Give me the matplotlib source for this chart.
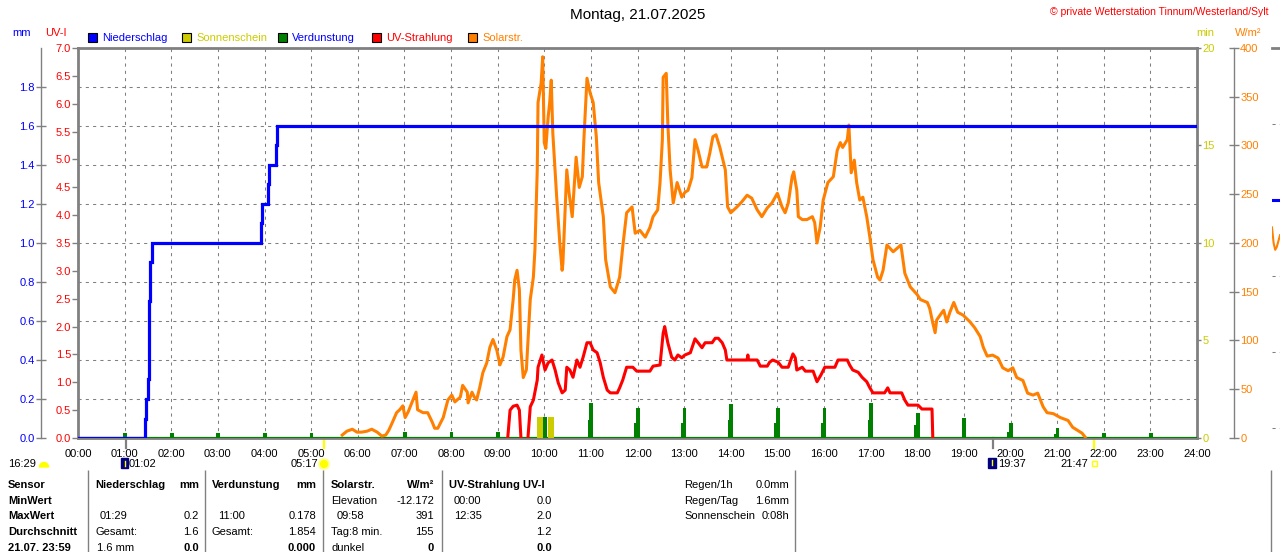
import numpy as np
import matplotlib
matplotlib.use("Agg")
import matplotlib.pyplot as plt
from matplotlib.patches import Rectangle, Circle, Wedge

plt.rcParams['font.family'] = ['Liberation Sans', 'DejaVu Sans']
plt.rcParams['font.size'] = 8

# Farben
BLAU = '#0000ff'
GELB = '#cccc00'
GRUEN = '#008000'
ROT = '#ff0000'
ORANGE = '#ff8000'
GRAU = '#808080'

# ---------------- Daten ----------------
stunden = np.arange(0, 25)
stunden_text = [f'{h:02d}:00' for h in stunden]

# Niederschlag, Tagessumme (mm)
regen_zeit = ['00:00', '01:26', '01:28', '01:30', '01:32', '01:33', '01:35',
              '03:56', '03:57', '04:04', '04:06', '04:15', '04:16', '24:00']
regen_mm = [0.0, 0.1, 0.2, 0.3, 0.7, 0.9, 1.0, 1.1, 1.2, 1.3, 1.4, 1.5, 1.6, 1.6]

# Verdunstung je Stunde (mm)
verd_stunde = np.arange(0, 24)
verd_mm = [0, .027, .027, .027, .027, .027, 0, .03, .03, .03, .107, .178,
           .155, .152, .175, .155, .155, .178, .128, .103, .077, .05, .025, .025]
verd_rest = [0, 0, 0, 0, 0, 0, 0, 0, 0, 0, .07, .09,
             .077, .075, .09, .075, .075, .09, .067, 0, .03, .02, 0, 0]

# Sonnenschein (min)
sonne_zeit = ['09:54', '10:09']
sonne_min = [1.06, 1.06]

# UV-Strahlung (UV-I)
uv_zeit = ['09:13', '09:16', '09:20', '09:25', '09:28', '09:30', '09:35', '09:39', '09:42', '09:46',
           '09:51', '09:52', '09:57', '10:01', '10:05', '10:10', '10:14', '10:18', '10:23', '10:27',
           '10:29', '10:33', '10:37', '10:42', '10:46', '10:50', '10:55', '10:59', '11:03', '11:08',
           '11:12', '11:16', '11:21', '11:25', '11:34', '11:37', '11:41', '11:46', '11:54', '11:59',
           '12:16', '12:20', '12:29', '12:33', '12:35', '12:39', '12:44', '12:48', '12:52', '12:57',
           '13:01', '13:08', '13:14', '13:18', '13:23', '13:27', '13:36', '13:40', '13:44', '13:49',
           '13:53', '13:55', '14:21', '14:22', '14:23', '14:34', '14:38', '14:47', '14:50', '14:54',
           '15:01', '15:06', '15:14', '15:20', '15:23', '15:25', '15:32', '15:36', '15:46', '15:51',
           '15:56', '16:01', '16:14', '16:18', '16:30', '16:33', '16:37', '16:44', '16:49', '16:55',
           '16:59', '17:03', '17:18', '17:22', '17:25', '17:40', '17:44', '17:48', '18:01', '18:06',
           '18:19', '18:20']
uv_wert = [0.0, .5, .57, .59, .5, 0.0, np.nan, 0.0, .56, .68,
           1.04, 1.27, 1.49, 1.22, 1.35, 1.4, 1.22, .99, .81, .86,
           1.27, 1.22, 1.09, 1.4, 1.27, 1.45, 1.71, 1.71, 1.58, 1.53,
           1.35, 1.09, .86, .81, .81, .9, 1.04, 1.27, 1.27, 1.2,
           1.2, 1.29, 1.31, 1.88, 2.0, 1.71, 1.45, 1.4, 1.49, 1.44,
           1.49, 1.53, 1.78, 1.71, 1.62, 1.71, 1.71, 1.79, 1.79, 1.71,
           1.58, 1.4, 1.4, 1.49, 1.4, 1.4, 1.29, 1.29, 1.36, 1.4,
           1.36, 1.27, 1.27, 1.51, 1.44, 1.22, 1.27, 1.2, 1.2, 1.01,
           1.13, 1.27, 1.27, 1.4, 1.4, 1.31, 1.22, 1.18, 1.09, 1.01,
           .9, .81, .81, .9, .81, .81, .68, .59, .59, .52,
           .52, 0.0]

# Solarstrahlung (W/m2)
solar_zeit = ['05:40', '05:46', '05:53', '05:59', '06:05', '06:12', '06:18', '06:25', '06:31', '06:36',
              '06:40', '06:44', '06:50', '06:54', '06:58', '07:01', '07:05', '07:10', '07:15', '07:17',
              '07:24', '07:30', '07:36', '07:39', '07:43', '07:50', '07:56', '08:01', '08:05', '08:12',
              '08:15', '08:21', '08:22', '08:27', '08:30', '08:33', '08:37', '08:41', '08:46', '08:50',
              '08:54', '08:59', '09:03', '09:07', '09:12', '09:16', '09:20', '09:22', '09:25', '09:28',
              '09:30', '09:33', '09:37', '09:42', '09:46', '09:48', '09:51', '09:52', '09:56', '09:58',
              '10:00', '10:02', '10:05', '10:07', '10:09', '10:11', '10:16', '10:20', '10:23', '10:24',
              '10:29', '10:32', '10:36', '10:41', '10:45', '10:49', '10:51', '10:55', '10:59', '11:03',
              '11:07', '11:10', '11:16', '11:19', '11:25', '11:31', '11:37', '11:41', '11:46', '11:53',
              '11:57', '12:03', '12:10', '12:16', '12:20', '12:26', '12:29', '12:32', '12:33', '12:37',
              '12:39', '12:42', '12:46', '12:51', '12:57', '13:01', '13:05', '13:10', '13:14', '13:18',
              '13:23', '13:29', '13:33', '13:37', '13:41', '13:46', '13:53', '13:56', '14:00', '14:08',
              '14:14', '14:21', '14:27', '14:34', '14:40', '14:47', '14:53', '15:00', '15:06', '15:10',
              '15:14', '15:19', '15:21', '15:25', '15:27', '15:32', '15:38', '15:45', '15:48', '15:51',
              '15:55', '15:59', '16:05', '16:12', '16:17', '16:21', '16:24', '16:30', '16:32', '16:35',
              '16:39', '16:42', '16:46', '16:50', '16:55', '16:59', '17:03', '17:09', '17:12', '17:16',
              '17:21', '17:29', '17:39', '17:44', '17:51', '18:00', '18:04', '18:13', '18:16', '18:20',
              '18:23', '18:25', '18:32', '18:34', '18:38', '18:42', '18:47', '18:52', '18:59', '19:08',
              '19:14', '19:21', '19:25', '19:30', '19:37', '19:44', '19:50', '19:57', '20:03', '20:08',
              '20:16', '20:22', '20:29', '20:35', '20:42', '20:47', '20:55', '21:04', '21:14', '21:20',
              '21:26', '21:32', '21:36']
solar_wert = [3, 7, 9, 6, 6, 7, 9, 6, 2, 3,
              8, 15, 26, 29, 33, 21, 27, 37, 47, 29,
              26, 26, 16, 10, 10, 21, 39, 44, 37, 42,
              54, 47, 36, 47, 42, 39, 52, 67, 77, 93,
              101, 90, 75, 83, 104, 111, 142, 162, 172, 152,
              90, 62, 70, 142, 165, 193, 275, 344, 364, 391,
              303, 297, 329, 344, 367, 313, 247, 200, 172, 179,
              275, 251, 227, 288, 257, 268, 306, 369, 354, 344,
              309, 262, 227, 183, 155, 149, 165, 196, 231, 237,
              210, 213, 206, 216, 227, 234, 262, 306, 370, 374,
              323, 275, 241, 262, 247, 252, 254, 267, 306, 295,
              278, 278, 292, 309, 311, 298, 275, 237, 231, 237,
              242, 249, 246, 234, 227, 236, 241, 251, 237, 231,
              241, 268, 273, 254, 227, 224, 224, 227, 221, 200,
              216, 244, 262, 268, 295, 303, 298, 306, 321, 272,
              285, 262, 244, 247, 227, 206, 183, 165, 162, 172,
              198, 191, 198, 169, 155, 147, 142, 139, 133, 118,
              108, 121, 129, 131, 119, 129, 139, 129, 126, 119,
              113, 104, 93, 84, 85, 82, 72, 69, 72, 62,
              59, 46, 44, 46, 32, 26, 25, 21, 18, 11,
              8, 5, 1]

# Sonne / Mond
sonne_auf, sonne_unter = '05:17', '21:47'
mond_unter, mond_auf = '01:02', '19:37'

# angeschnittener Rand des naechsten Diagramms
naechst_regen = 1.22
naechst_x = [0, 0.2, 0.4, 0.6, 0.8, 1.0]
naechst_solar = [216, 200, 193, 196, 202, 208]

# Tabelle
tab_zeilen = ['Sensor', 'MinWert', 'MaxWert', 'Durchschnitt', '21.07. 23:59']
regen_info = [('Regen/1h', '0.0mm'), ('Regen/Tag', '1.6mm'), ('Sonnenschein', '0:08h')]


def hm(s):
    h, m = s.split(':')
    return int(h) + int(m) / 60


# ---------------- Figur ----------------
fig = plt.figure(figsize=(12.8, 5.52), dpi=100)
L, R, T, B = 78, 1197, 48, 438
ax = fig.add_axes([L / 1280, 1 - B / 552, (R - L) / 1280, (B - T) / 552])
ax.set_xlim(0, 24)
ax.set_ylim(0, 2)
ax.set_axisbelow(True)

# Verdunstung (mm) + Gitter
ax.bar(verd_stunde + 0.01, verd_mm, width=0.08, color=GRUEN, lw=0, zorder=2)
ax.bar(verd_stunde - 0.045, verd_rest, width=0.04, color=GRUEN, lw=0, zorder=2)
ax.axhline(0, color=GRUEN, lw=1.6, zorder=4)
ax.set_xticks(stunden)
ax.set_xticklabels(stunden_text)
ax.set_yticks(np.arange(0.2, 1.81, 0.2))
ax.grid(True, color=GRAU, ls=(0, (3, 4)), lw=0.75)
for s in ax.spines.values():
    s.set_color(GRAU)
    s.set_linewidth(2)

# Sonnenschein (min)
ax_sun = ax.twinx()
ax_sun.set_ylim(0, 20)
ax_sun.bar([hm(t) for t in sonne_zeit], sonne_min, width=0.125, color=GELB, lw=0)
ax_sun.set_yticks([0, 5, 10, 15, 20])
ax_sun.tick_params(axis='y', colors=GRAU, labelcolor=GELB, length=3, width=1, pad=1)
for s in ax_sun.spines.values():
    s.set_visible(False)

# Solarstrahlung (W/m2)
ax_sol = ax.twinx()
ax_sol.set_ylim(0, 400)
ax_sol.plot([hm(t) for t in solar_zeit], solar_wert, color=ORANGE, lw=2.2)
ax_sol.set_yticks(np.arange(0, 401, 50))
ax_sol.tick_params(axis='y', colors=GRAU, labelcolor=ORANGE, length=7, width=1,
                   direction='inout', pad=1)
for k, s in ax_sol.spines.items():
    s.set_visible(k == 'right')
ax_sol.spines['right'].set_position(('axes', 1 + 37 / (R - L)))
ax_sol.spines['right'].set_color(GRAU)
ax_sol.spines['right'].set_linewidth(1)

# UV-Strahlung (UV-I)
ax_uv = ax.twinx()
ax_uv.set_ylim(0, 7)
ax_uv.plot([hm(t) for t in uv_zeit], uv_wert, color=ROT, lw=2.2)
ax_uv.yaxis.tick_left()
ax_uv.set_yticks(np.arange(0, 7.01, 0.5))
ax_uv.set_yticklabels([f'{v:.1f}' for v in np.arange(0, 7.01, 0.5)])
ax_uv.tick_params(axis='y', colors=GRAU, labelcolor=ROT, length=4, width=1, pad=1,
                  left=True, labelleft=True, right=False, labelright=False)
for s in ax_uv.spines.values():
    s.set_visible(False)

# Niederschlag (mm)
ax_mm = ax.twinx()
ax_mm.set_ylim(0, 2)
ax_mm.plot([hm(t) for t in regen_zeit], regen_mm, color=BLAU, lw=2.3,
           drawstyle='steps-post', solid_joinstyle='miter')
ax_mm.yaxis.tick_left()
ax_mm.set_yticks(np.arange(0, 1.81, 0.2))
ax_mm.set_yticklabels([f'{v:.1f}' for v in np.arange(0, 1.81, 0.2)])
ax_mm.tick_params(axis='y', colors=GRAU, labelcolor=BLAU, length=7, width=1,
                  direction='inout', pad=1, left=True, labelleft=True,
                  right=False, labelright=False)
for k, s in ax_mm.spines.items():
    s.set_visible(k == 'left')
ax_mm.spines['left'].set_position(('axes', -37 / (R - L)))
ax_mm.spines['left'].set_color(GRAU)
ax_mm.spines['left'].set_linewidth(1)

# Grundachse zuletzt einstellen
ax.tick_params(axis='y', length=0, left=False, labelleft=False, right=False, labelright=False)
ax.tick_params(axis='x', length=0, pad=8, labelsize=8)

# Sonnen- und Mondzeiten als kurze Striche unter der Achse
ax.axvline(hm(sonne_auf), ymin=-0.026, ymax=0, color='#ffff00', lw=1.6, clip_on=False)
ax.axvline(hm(sonne_unter), ymin=-0.026, ymax=0, color='#ffff00', lw=1.6, clip_on=False)
ax.axvline(hm(mond_unter), ymin=-0.026, ymax=0, color=GRAU, lw=1.6, clip_on=False)
ax.axvline(hm(mond_auf), ymin=-0.026, ymax=0, color=GRAU, lw=1.6, clip_on=False)

# Rand des folgenden Diagramms
ax_n = fig.add_axes([1272 / 1280, 1 - B / 552, 8 / 1280, (B - T) / 552])
ax_n.set_xlim(0, 1)
ax_n.set_ylim(0, 2)
ax_n.axhline(naechst_regen, color=BLAU, lw=2.2)
for yy in [0.05, 0.44, 0.83, 1.61]:
    ax_n.axhline(yy, color=GRAU, ls=(0, (3, 4)), lw=0.75)
ax_n.set_xticks([])
ax_n.set_yticks([])
for k, s in ax_n.spines.items():
    s.set_visible(k == 'top')
ax_n.spines['top'].set_color(GRAU)
ax_n.spines['top'].set_linewidth(2)
ax_n2 = ax_n.twinx()
ax_n2.set_ylim(0, 400)
ax_n2.plot(naechst_x, naechst_solar, color=ORANGE, lw=1.5)
ax_n2.axis('off')

# ---------------- Texte / Beschriftung in Pixelkoordinaten ----------------
d = fig.add_axes([0, 0, 1, 1], zorder=10)
d.set_xlim(0, 1280)
d.set_ylim(552, 0)
d.axis('off')

d.text(638, 15, 'Montag, 21.07.2025', fontsize=11, ha='center', va='center')
d.text(1268, 12, '© private Wetterstation Tinnum/Westerland/Sylt', color=ROT,
       fontsize=7.5, ha='right', va='center')
d.text(22, 33, 'mm', color=BLAU, ha='center', va='center')
d.text(56, 33, 'UV-I', color=ROT, ha='center', va='center')
d.text(1205, 33, 'min', color=GELB, ha='center', va='center')
d.text(1248, 33, 'W/m²', color=ORANGE, ha='center', va='center')

legende = [('Niederschlag', BLAU, BLAU, 88), ('Sonnenschein', GELB, GELB, 182),
           ('Verdunstung', GRUEN, BLAU, 278), ('UV-Strahlung', ROT, ROT, 372),
           ('Solarstr.', ORANGE, ORANGE, 468)]
for name, fc, tc, x0 in legende:
    d.add_patch(Rectangle((x0, 33), 9, 9, facecolor=fc, edgecolor='black', lw=0.8))
    d.text(x0 + 14, 38, name, color=tc, va='center')

# Sonne / Mond unter der Zeitachse
d.text(8, 464, '16:29', va='center')
d.add_patch(Wedge((44, 467), 4.5, 180, 360, color='#ffff00'))
d.add_patch(Rectangle((121, 458), 7, 10, color='#000080'))
d.plot([124.5, 124.5], [466, 461], color='#ffff00', lw=1)
d.text(129, 464, mond_unter, va='center')
d.text(318, 464, sonne_auf, va='center', ha='right')
d.add_patch(Circle((324, 464), 5.5, color='#ffffa0'))
d.add_patch(Circle((324, 464), 3.5, color='#ffff00'))
d.add_patch(Rectangle((988, 458), 8, 10, color='#000080'))
d.plot([991.5, 991.5], [460, 465], color='#ffff00', lw=1)
d.text(998, 464, mond_auf, va='center')
d.text(1088, 464, sonne_unter, va='center', ha='right')
d.add_patch(Rectangle((1092, 461), 5, 5, facecolor='none', edgecolor='#ffff00', lw=1))

# Tabelle
d.vlines([88, 205, 323, 442, 795], 470, 552, color=GRAU, lw=1)
d.vlines([1271], 470, 552, color=GRAU, lw=1)
zy = [485, 501, 516, 532, 548]
for txt, yy in zip(tab_zeilen, zy):
    d.text(8, yy, txt, fontweight='bold', va='center')

kopf = [(95, 'Niederschlag', 'left'), (199, 'mm', 'right'), (212, 'Verdunstung', 'left'),
        (316, 'mm', 'right'), (331, 'Solarstr.', 'left'), (434, 'W/m²', 'right'),
        (449, 'UV-Strahlung UV-I', 'left')]
for x0, txt, ha in kopf:
    d.text(x0, zy[0], txt, fontweight='bold', va='center', ha=ha)

zellen = [
    (1, 331, 'Elevation', 'left', 'normal'), (1, 434, '-12.172', 'right', 'normal'),
    (1, 454, '00:00', 'left', 'normal'), (1, 552, '0.0', 'right', 'normal'),
    (2, 100, '01:29', 'left', 'normal'), (2, 199, '0.2', 'right', 'normal'),
    (2, 218, '11:00', 'left', 'normal'), (2, 316, '0.178', 'right', 'normal'),
    (2, 337, '09:58', 'left', 'normal'), (2, 434, '391', 'right', 'normal'),
    (2, 454, '12:35', 'left', 'normal'), (2, 552, '2.0', 'right', 'normal'),
    (3, 95, 'Gesamt:', 'left', 'normal'), (3, 199, '1.6', 'right', 'normal'),
    (3, 212, 'Gesamt:', 'left', 'normal'), (3, 316, '1.854', 'right', 'normal'),
    (3, 331, 'Tag:8 min.', 'left', 'normal'), (3, 434, '155', 'right', 'normal'),
    (3, 552, '1.2', 'right', 'normal'),
    (4, 97, '1.6 mm', 'left', 'normal'), (4, 199, '0.0', 'right', 'bold'),
    (4, 316, '0.000', 'right', 'bold'), (4, 331, 'dunkel', 'left', 'normal'),
    (4, 434, '0', 'right', 'bold'), (4, 552, '0.0', 'right', 'bold'),
]
for zi, x0, txt, ha, fw in zellen:
    d.text(x0, zy[zi], txt, va='center', ha=ha, fontweight=fw)

for (name, wert), yy in zip(regen_info, zy):
    d.text(684, yy, name, va='center')
    d.text(789, yy, wert, va='center', ha='right')

fig.savefig('out.png', dpi=100, facecolor='white')
